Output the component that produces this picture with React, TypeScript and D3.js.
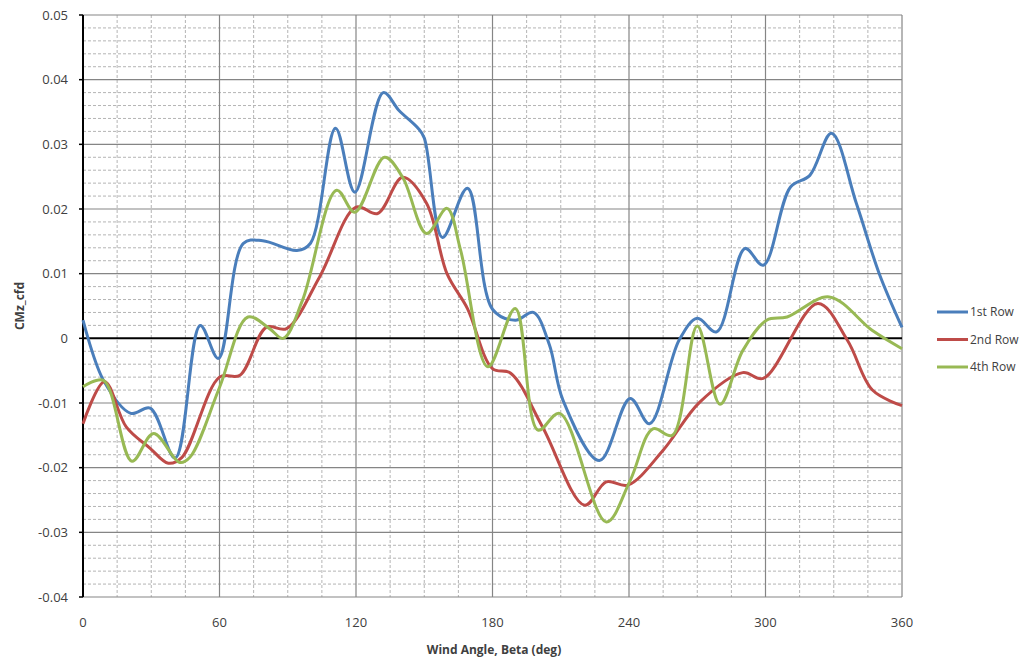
import React from "react";
import * as d3 from "d3";

const xTicks = [0, 60, 120, 180, 240, 300, 360];
const yTicks = [0.05, 0.04, 0.03, 0.02, 0.01, 0, -0.01, -0.02, -0.03, -0.04];
const yTickLabels = ["0.05", "0.04", "0.03", "0.02", "0.01", "0", "-0.01", "-0.02", "-0.03", "-0.04"];

const row1Angles = [0, 9, 21, 29.5, 40.5, 51.5, 59.5, 70.5, 79, 94, 100, 111, 119.5, 132, 139, 147, 150, 158, 169, 180, 190, 198, 205, 211, 227, 240.5, 249, 262, 270, 278.5, 291, 299, 311, 319.5, 329, 340, 350, 360];
const row1Values = [0.0028, -0.0065, -0.0116, -0.0108, -0.0185, 0.002, -0.0031, 0.0147, 0.0151, 0.0136, 0.0147, 0.0325, 0.0226, 0.038, 0.0352, 0.0326, 0.031, 0.0156, 0.0232, 0.0045, 0.0028, 0.004, -0.001, -0.0096, -0.0189, -0.0093, -0.0132, -0.0003, 0.0031, 0.001, 0.0139, 0.0113, 0.0234, 0.0252, 0.0317, 0.0208, 0.01, 0.0017];

const row2Angles = [0, 9.5, 19, 29.5, 37.5, 43.5, 60, 69, 80.5, 89.5, 104, 120, 129.5, 140.5, 151, 160, 169, 180, 188, 202, 220.5, 230, 239.5, 255, 271, 290, 299, 323, 336, 347, 360];
const row2Values = [-0.0132, -0.0067, -0.0137, -0.017, -0.0193, -0.0184, -0.006, -0.0057, 0.0017, 0.0015, 0.0095, 0.0203, 0.0193, 0.0249, 0.0209, 0.01, 0.0046, -0.0047, -0.0054, -0.0137, -0.0258, -0.0222, -0.0227, -0.0173, -0.0099, -0.0053, -0.0062, 0.0054, -0.0003, -0.008, -0.0104];

const row4Angles = [0, 9, 21.5, 31, 42.5, 47, 60, 72.5, 82, 88, 96.5, 111.5, 119.5, 132.5, 140.5, 151, 160, 166, 178, 190, 200, 209.5, 230, 240.5, 250.5, 259, 270, 280, 290, 300.5, 309.5, 328, 347, 360];
const row4Values = [-0.0075, -0.0065, -0.019, -0.0147, -0.0192, -0.0184, -0.0076, 0.0033, 0.0015, 0, 0.0059, 0.0229, 0.0195, 0.028, 0.0249, 0.0162, 0.0201, 0.0136, -0.0044, 0.0046, -0.0142, -0.0116, -0.0284, -0.022, -0.014, -0.015, 0.0019, -0.0102, -0.0019, 0.0028, 0.0033, 0.0064, 0.0012, -0.0016];

const seriesNames = ["1st Row", "2nd Row", "4th Row"];
const seriesColors = ["#4a7ebb", "#be4b48", "#98b954"];

const W = 1028, H = 664;
const L = 83, R = 902, T = 15, B = 597;
const FONT = "'Open Sans', 'Liberation Sans', sans-serif";

export default function App() {
  const x = d3.scaleLinear().domain([0, 360]).range([L, R]);
  const y = d3.scaleLinear().domain([-0.04, 0.05]).range([B, T]);

  const series = [
    row1Angles.map((a, i) => [a, row1Values[i]] as [number, number]),
    row2Angles.map((a, i) => [a, row2Values[i]] as [number, number]),
    row4Angles.map((a, i) => [a, row4Values[i]] as [number, number]),
  ];
  const line = d3
    .line<[number, number]>()
    .x((d) => x(d[0]))
    .y((d) => y(d[1]))
    .curve(d3.curveCatmullRom.alpha(0.5));

  const minorX = d3.range(15, 360, 15).filter((v) => v % 60 !== 0);
  const minorY = d3.range(-40, 50, 2).filter((v) => v % 10 !== 0).map((v) => v / 1000);

  return (
    <svg width={W} height={H} style={{ position: "absolute", left: 0, top: 0, background: "#fff" }}>
      <rect x={0} y={0} width={W} height={H} fill="#fff" />
      {minorY.map((v) => (
        <line key={"my" + v} x1={L} x2={R} y1={y(v)} y2={y(v)} stroke="#b4b4b4" strokeWidth={1} strokeDasharray="3,2" />
      ))}
      {minorX.map((v) => (
        <line key={"mx" + v} x1={x(v)} x2={x(v)} y1={T} y2={B} stroke="#b4b4b4" strokeWidth={1} strokeDasharray="3,2" />
      ))}
      {yTicks.filter((v) => v !== 0).map((v) => (
        <line key={"gy" + v} x1={L} x2={R} y1={y(v)} y2={y(v)} stroke="#858585" strokeWidth={1.2} />
      ))}
      {xTicks.filter((v) => v !== 0).map((v) => (
        <line key={"gx" + v} x1={x(v)} x2={x(v)} y1={T} y2={B} stroke="#858585" strokeWidth={1.2} />
      ))}
      <line x1={L} x2={R} y1={y(0)} y2={y(0)} stroke="#000" strokeWidth={2} />
      <line x1={L} x2={L} y1={T} y2={B} stroke="#000" strokeWidth={2} />
      {yTicks.map((v, i) => (
        <g key={"ty" + v}>
          <line x1={L - 4} x2={L} y1={y(v)} y2={y(v)} stroke="#000" strokeWidth={1.5} />
          <text x={68} y={y(v)} dy="0.35em" textAnchor="end" fontFamily={FONT} fontSize={13} fill="#404040">
            {yTickLabels[i]}
          </text>
        </g>
      ))}
      {xTicks.map((v) => (
        <text key={"tx" + v} x={x(v)} y={622} dy="0.35em" textAnchor="middle" fontFamily={FONT} fontSize={13} fill="#404040">
          {v}
        </text>
      ))}
      {series.map((s, i) => (
        <path key={"s" + i} d={line(s) || ""} fill="none" stroke={seriesColors[i]} strokeWidth={3} strokeLinejoin="round" />
      ))}
      <text x={494} y={650} dy="0.35em" textAnchor="middle" fontFamily={FONT} fontSize={12} fontWeight="bold" fill="#404040">
        Wind Angle, Beta (deg)
      </text>
      <text transform={`translate(20,${306}) rotate(-90)`} dy="0.35em" textAnchor="middle" fontFamily={FONT} fontSize={12} fontWeight="bold" fill="#404040">
        CMz_cfd
      </text>
      {seriesNames.map((n, i) => (
        <g key={"lg" + i} transform={`translate(937,${312 + i * 27.5})`}>
          <line x1={0} x2={31} y1={0} y2={0} stroke={seriesColors[i]} strokeWidth={3} />
          <text x={33} y={0} dy="0.35em" fontFamily={FONT} fontSize={12} fill="#404040">
            {n}
          </text>
        </g>
      ))}
    </svg>
  );
}
